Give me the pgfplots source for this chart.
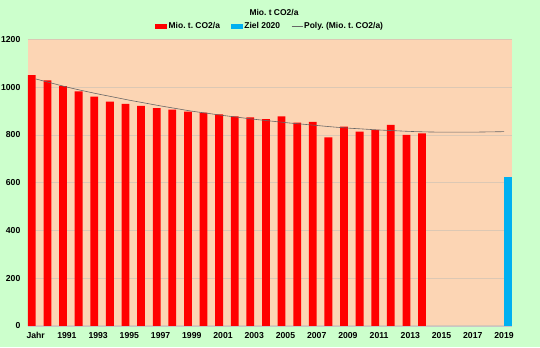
\documentclass[border=0pt]{standalone}
\usepackage{fontspec}
\setmainfont{Liberation Sans}
\usepackage{pgfplots}
\pgfplotsset{compat=1.18}
\definecolor{bggreen}{HTML}{CCFFCC}
\definecolor{peach}{HTML}{FCD5B4}
\definecolor{barblue}{HTML}{00B0F0}
\definecolor{gridc}{HTML}{DCC8B4}
\frenchspacing
\begin{document}
\begin{tikzpicture}[x=1bp,y=1bp]
\fill[bggreen] (0,0) rectangle (540,347);
\useasboundingbox (0,0) rectangle (540,347);
\node[font=\bfseries\fontsize{8.5}{10}\selectfont] at (274,334.3) {Mio. t CO2/a};
\begin{axis}[
  at={(27.9bp,21.2bp)}, anchor=south west,
  scale only axis, width=483.9bp, height=286.2bp,
  xmin=-0.5, xmax=30.5, ymin=0, ymax=1200,
  axis background/.style={fill=peach},
  axis lines*=left,
  x axis line style={draw=black!22, -},
  y axis line style={draw=none},
  ytick={0,200,...,1200},
  ymajorgrids, grid style={draw=gridc, line width=0.8pt},
  xtick={0,2,...,30},
  xticklabels={Jahr,1991,1993,1995,1997,1999,2001,2003,2005,2007,2009,2011,2013,2015,2017,2019},
  major tick length=0pt,
  /pgf/number format/assume math mode=true,
  /pgf/number format/1000 sep={},
  ticklabel style={font=\bfseries\fontsize{8.7}{10}\selectfont},
  yticklabel style={xshift=-4bp},
  xticklabel style={yshift=-3bp},
  legend columns=-1,
  legend style={at={(0.5,1)}, anchor=center, yshift=13bp, draw=none, fill=none,
    font=\bfseries\fontsize{8.5}{10}\selectfont, inner sep=0pt,
    nodes={inner sep=1.2bp},
    /tikz/every odd column/.append style={column sep=0bp},
    /tikz/every even column/.append style={column sep=10bp}},
]
\addplot[ybar, fill=red, draw=none, bar width=0.5, bar shift=-0.25,
  legend image code/.code={\fill[red] (0bp,-2.5bp) rectangle (12bp,2.5bp);}]
  coordinates {(0,1051) (1,1029) (2,1005) (3,983) (4,961) (5,940) (6,931) (7,922)
   (8,913) (9,906) (10,898) (11,894) (12,887) (13,878) (14,874) (15,867) (16,878)
   (17,852) (18,855) (19,790) (20,835) (21,814) (22,821) (23,842) (24,801) (25,807)};
\addlegendentry{Mio. t. CO2/a}
\addplot[ybar, fill=barblue, draw=none, bar width=0.5, bar shift=0.25,
  legend image code/.code={\fill[barblue] (0bp,-2.5bp) rectangle (12bp,2.5bp);}]
  coordinates {(30,625)};
\addlegendentry{Ziel 2020}
\addplot[smooth, draw=black!60, line width=0.6pt,
  legend image code/.code={\draw[black!60, line width=0.6pt] (0bp,0bp) -- (11bp,0bp);}]
  coordinates {(0,1035) (1,1018) (2,1001) (3,986) (4,972) (5,959) (6,946) (7,934)
   (8,922) (9,911) (10,900) (11,891) (12,882) (13,874) (14,866) (15,859) (16,852)
   (17,846) (18,840) (19,834) (20,829) (21,825) (22,821) (23,818) (24,815) (25,813)
   (26,812) (27,812) (28,812) (29,813) (30,814)};
\addlegendentry{Poly. (Mio. t. CO2/a)}
\end{axis}
\end{tikzpicture}
\end{document}
